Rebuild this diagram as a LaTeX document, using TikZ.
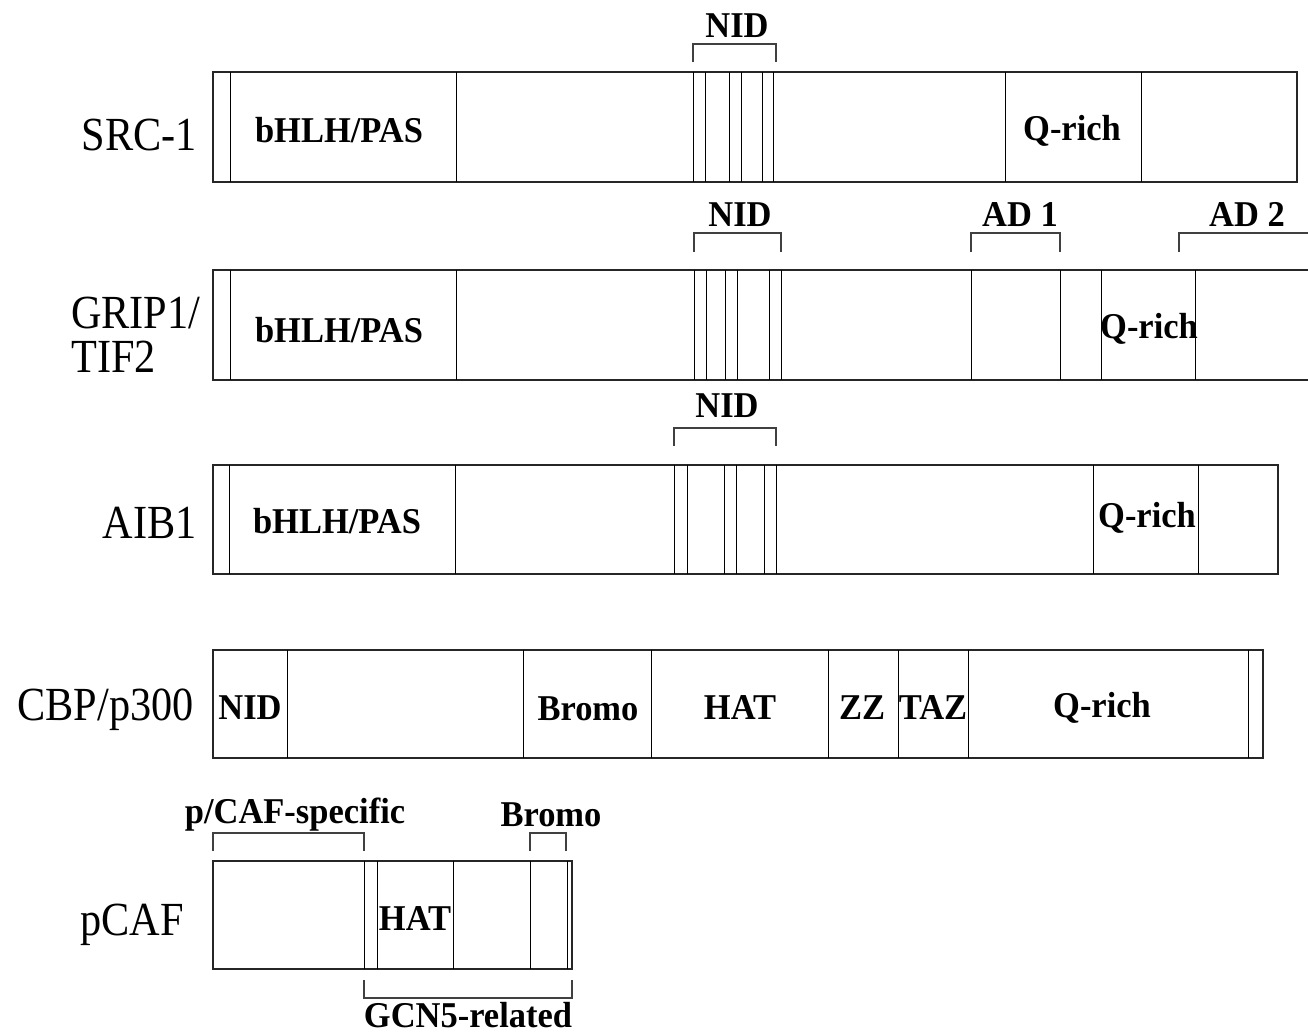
\documentclass[tikz,border=0pt]{standalone}
\usepackage{fontspec}
\setmainfont{Liberation Serif}
% slightly condensed faces: the labels are taller than they are wide
\newfontfamily\protfont[FakeStretch=0.89]{Liberation Serif}
\newfontfamily\domfont[FakeStretch=0.95]{Liberation Serif}
\begin{document}
\begin{tikzpicture}[x=1pt, y=-1pt,
  dlabel/.style={font=\domfont\fontsize{36.3}{38}\selectfont\bfseries, inner sep=0pt, anchor=base},
  protein/.style={font=\protfont\fontsize{47.5}{50}\selectfont, inner sep=0pt, anchor=base east},
  boxline/.style={draw=black!85, line width=1.3pt},
  divider/.style={draw=black, line width=1pt},
  bracketline/.style={draw=black!75, line width=1.1pt}]
\useasboundingbox (0,0) rectangle (1308,1034);

% ---------------- SRC-1 ----------------
\node[protein] (src) at (197,150) {SRC-1};
\draw[boxline] (213,72) rectangle (1297,182);
\foreach \x in {230,456,693,705,729,741,762,773,1005,1141}
  \draw[divider] (\x,72) -- (\x,182);
\node[dlabel] (srcbhlh) at (339,142) {bHLH/PAS};
\node[dlabel] (srcq) at (1072,140) {Q-rich};
\draw[bracketline] (693,62) -- (693,44) -- (776,44) -- (776,62);
\node[dlabel] (srcnid) at (737,37) {NID};

% ---------------- GRIP1/TIF2 (runs off to the right) ----------------
\node[protein, anchor=base west] (grip) at (71,328) {GRIP1/};
\node[protein, anchor=base west] (tif) at (71,372) {TIF2};
\draw[boxline] (1308,270) -- (213,270) -- (213,380) -- (1308,380);
\foreach \x in {230,456,694,706,725,737,769,781,971,1060,1101,1195}
  \draw[divider] (\x,270) -- (\x,380);
\node[dlabel] (gripbhlh) at (339,342) {bHLH/PAS};
\node[dlabel] (gripq) at (1149,338) {Q-rich};
\draw[bracketline] (694,252) -- (694,233) -- (781,233) -- (781,252);
\node[dlabel] (gripnid) at (740,226) {NID};
\draw[bracketline] (971,252) -- (971,233) -- (1060,233) -- (1060,252);
\node[dlabel] (ad1) at (1020,226) {AD 1};
\draw[bracketline] (1179,252) -- (1179,233) -- (1308,233);
\node[dlabel] (ad2) at (1247,226) {AD 2};

% ---------------- AIB1 ----------------
\node[protein] (aib) at (197,538) {AIB1};
\draw[boxline] (213,465) rectangle (1278,574);
\foreach \x in {229,455,674,687,724,736,764,776,1093,1198}
  \draw[divider] (\x,465) -- (\x,574);
\node[dlabel] (aibbhlh) at (337,533) {bHLH/PAS};
\node[dlabel] (aibq) at (1147,527) {Q-rich};
\draw[bracketline] (674,446) -- (674,428) -- (776,428) -- (776,446);
\node[dlabel] (aibnid) at (727,417) {NID};

% ---------------- CBP/p300 ----------------
\node[protein] (cbp) at (194,720) {CBP/p300};
\draw[boxline] (213,650) rectangle (1263,758);
\foreach \x in {287,523,651,828,898,968,1248}
  \draw[divider] (\x,650) -- (\x,758);
\node[dlabel] (cbpnid) at (250,719) {NID};
\node[dlabel] (cbpbromo) at (588,720) {Bromo};
\node[dlabel] (cbphat) at (740,719) {HAT};
\node[dlabel] (cbpzz) at (862,719) {ZZ};
\node[dlabel] (cbptaz) at (933,719) {TAZ};
\node[dlabel] (cbpq) at (1102,717) {Q-rich};

% ---------------- pCAF ----------------
\node[protein] (pcaf) at (184,935) {pCAF};
\draw[boxline] (213,861) rectangle (572,969);
\foreach \x in {364,377,453,530,567}
  \draw[divider] (\x,861) -- (\x,969);
\node[dlabel] (pcafhat) at (415,930) {HAT};
\draw[bracketline] (213,851) -- (213,833) -- (364,833) -- (364,851);
\node[dlabel] (pcafspec) at (295,823) {p/CAF-specific};
\draw[bracketline] (530,851) -- (530,833) -- (566,833) -- (566,851);
\node[dlabel] (pcafbromo) at (551,826) {Bromo};
\draw[bracketline] (364,980) -- (364,998) -- (572,998) -- (572,980);
\node[dlabel] (gcn) at (468,1027) {GCN5-related};
\end{tikzpicture}
\end{document}
